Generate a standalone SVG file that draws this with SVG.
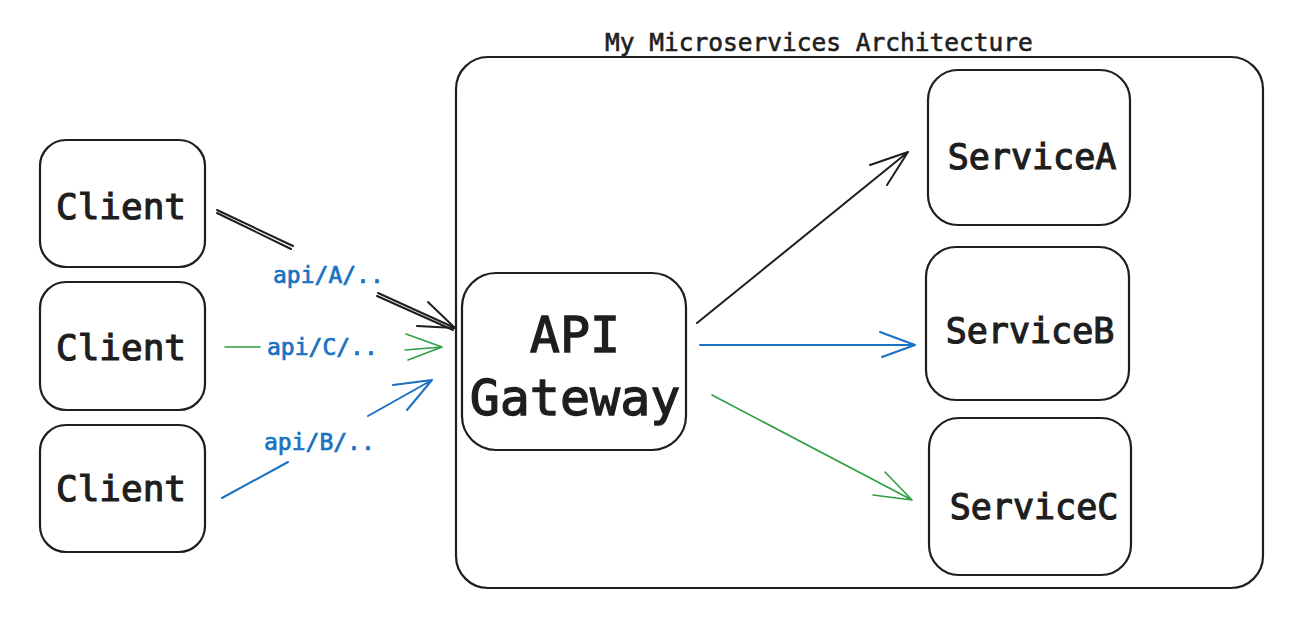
<svg xmlns="http://www.w3.org/2000/svg" width="1290" height="619" viewBox="0 0 1290 619">
<defs>
<style>
.box{fill:#fff;stroke:#1e1e1e;stroke-width:2.2}
.t{font-family:"DejaVu Sans Mono","Liberation Mono",monospace;fill:#1e1e1e;text-anchor:middle;stroke:#1e1e1e;stroke-width:1.2}
.lbl{font-family:"DejaVu Sans Mono","Liberation Mono",monospace;fill:#1971c2;stroke:#1971c2;stroke-width:0.7;font-size:23px}
.k{stroke:#1e1e1e;fill:none;stroke-width:2;stroke-linecap:round}
.b{stroke:#1971c2;fill:none;stroke-width:2;stroke-linecap:round}
.g{stroke:#2f9e44;fill:none;stroke-width:1.6;stroke-linecap:round}
</style>
</defs>
<rect width="1290" height="619" fill="#fff"/>
<g id="system">
<rect class="box" x="456" y="57" width="807" height="531" rx="32"/>
<text class="t" x="819" y="51" font-size="24.5" style="stroke-width:0.6">My Microservices Architecture</text>
</g>
<g id="client1">
<rect class="box" x="40" y="140" width="165" height="127" rx="26"/>
<text class="t" x="121" y="219" font-size="36">Client</text>
</g>
<g id="client2">
<rect class="box" x="40" y="282" width="165" height="128" rx="26"/>
<text class="t" x="121" y="360" font-size="36">Client</text>
</g>
<g id="client3">
<rect class="box" x="40" y="425" width="165" height="127" rx="26"/>
<text class="t" x="121" y="501" font-size="36">Client</text>
</g>
<g id="gateway">
<rect class="box" x="462" y="273" width="224" height="177" rx="34"/>
<text class="t" x="575" y="352" font-size="50" style="stroke-width:1.3">API</text>
<text class="t" x="575" y="415" font-size="50" style="stroke-width:1.3">Gateway</text>
</g>
<g id="serviceA">
<rect class="box" x="928" y="70" width="202" height="155" rx="30"/>
<text class="t" x="1032" y="169" font-size="35">ServiceA</text>
</g>
<g id="serviceB">
<rect class="box" x="926" y="247" width="203" height="153" rx="30"/>
<text class="t" x="1030" y="343" font-size="35">ServiceB</text>
</g>
<g id="serviceC">
<rect class="box" x="929" y="418" width="202" height="157" rx="30"/>
<text class="t" x="1034" y="519" font-size="35">ServiceC</text>
</g>
<g id="connectors">
<path class="k" d="M217 210 L293 246 M217 213 L291 249"/>
<path class="k" d="M378 293 L455 328 M377 296 L453 330"/>
<path class="k" d="M455 328 L428 302 M455 328 L417 326"/>
<text class="lbl" x="273" y="283">api/A/..</text>
<path class="g" d="M225 347 L260 347"/>
<text class="lbl" x="267" y="355">api/C/..</text>
<path class="g" d="M405 350 L442 347 M442 347 L406 334 M442 347 L408 360"/>
<path class="b" d="M222 498 L288 462"/>
<text class="lbl" x="264" y="450">api/B/..</text>
<path class="b" d="M368 416 L432 380 M432 380 L393 385 M432 380 L407 410"/>
<path class="k" d="M697 323 L908 152 M908 152 L870 165 M908 152 L887 185" stroke-width="1.6"/>
<path class="b" d="M700 345 L915 345 M915 345 L880 332 M915 345 L882 357" stroke-width="1.6"/>
<path class="g" d="M712 395 L912 500 M912 500 L885 472 M912 500 L873 495"/>
</g>
</svg>
